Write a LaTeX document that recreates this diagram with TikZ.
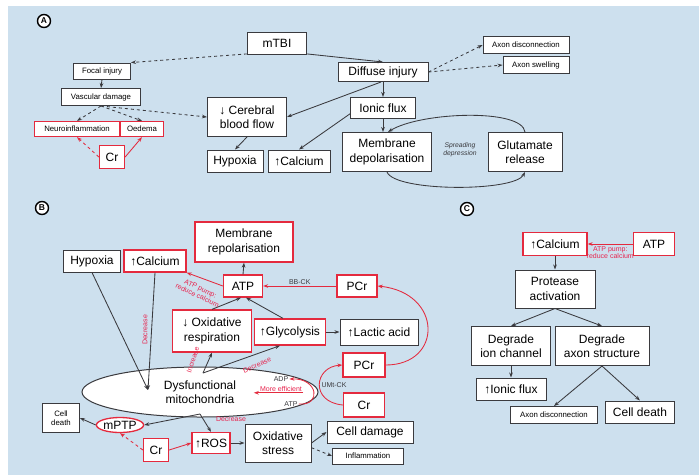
\documentclass[tikz,border=0pt]{standalone}
\usepackage{fontspec}
\setmainfont{Liberation Sans}
\usetikzlibrary{arrows.meta,shapes.geometric}

\definecolor{bgblue}{RGB}{205,224,238}
\definecolor{boxred}{RGB}{228,42,62}
\definecolor{txtred}{RGB}{232,36,78}
\definecolor{linegray}{RGB}{58,58,62}

\tikzset{
  box/.style={draw=linegray, line width=1pt, fill=white, align=center, inner sep=1pt,
    font=\fontsize{12}{14.5}\selectfont},
  redbox/.style={box, draw=boxred, line width=1.3pt},
  smallbox/.style={box, line width=0.9pt, font=\fontsize{7.8}{9}\selectfont},
  smallredbox/.style={smallbox, draw=boxred, line width=1.2pt},
  note/.style={text=txtred, inner sep=1pt, align=center, font=\fontsize{7}{7.6}\selectfont},
  tag/.style={text=linegray, inner sep=1pt, align=center, font=\fontsize{7}{8}\selectfont},
  panel/.style={circle, draw=black, line width=1.4pt, fill=white, inner sep=0.5pt,
    minimum size=13pt, font=\bfseries\fontsize{8.5}{9}\selectfont},
  conn/.style={draw=linegray, line width=0.85pt, ->},
  redconn/.style={draw=boxred, line width=0.85pt, ->}
}

\begin{document}
\begin{tikzpicture}[x=1pt, y=-1pt, >={Stealth[length=5pt,width=3.6pt]}]
        \useasboundingbox (0,0) rectangle (699,475);
        \fill[bgblue] (8,6) rectangle (699,475);

        % panel A: nodes
        \node (pa) [panel] at (44,21) {A};
        \node (mtbi) [box, minimum width=59, minimum height=22] at (277,43) {mTBI};
        \node (focal) [smallbox, minimum width=57, minimum height=16] at (102,71) {Focal injury};
        \node (vasc) [smallbox, minimum width=79, minimum height=17] at (101,97) {Vascular damage};
        \node (neuro) [smallredbox, minimum width=85, minimum height=15] at (77,129) {Neuroinflammation};
        \node (oedema) [smallredbox, minimum width=43, minimum height=15] at (142,129) {Oedema};
        \node (cra) [redbox, minimum width=25, minimum height=23] at (112,157) {Cr};
        \node (cbf) [box, minimum width=79, minimum height=39] at (247,117) {↓ Cerebral\\blood flow};
        \node (hypa) [box, minimum width=56, minimum height=22] at (235,161) {Hypoxia};
        \node (calca) [box, minimum width=62, minimum height=22] at (299,161) {↑Calcium};
        \node (diffuse) [box, minimum width=90, minimum height=19] at (383,72) {Diffuse injury};
        \node (ionic) [box, minimum width=65, minimum height=21] at (383,108) {Ionic flux};
        \node (mdep) [box, minimum width=89, minimum height=39] at (387,152) {Membrane\\depolarisation};
        \node (glu) [box, minimum width=74, minimum height=39] at (525,152) {Glutamate\\release};
        \node (axdis) [smallbox, minimum width=86, minimum height=17] at (526,45) {Axon disconnection};
        \node (axswell) [smallbox, minimum width=66, minimum height=17] at (536,65) {Axon swelling};
        \node (spread) [tag, font=\itshape\fontsize{6.8}{8}\selectfont] at (460,150) {Spreading\\depression};

        % panel A: edges
        \draw[conn, dashed] (mtbi.200) -- (focal.north east);
        \draw[conn] (mtbi.340) -- (diffuse.north);
        \draw[conn] (focal.south) -- (vasc.north);
        \draw[conn, dashed] (vasc.south) -- (neuro.north);
        \draw[conn, dashed] (vasc.south) -- (oedema.north);
        \draw[conn, dashed] (vasc.south) -- (cbf.west);
        \draw[redconn, dashed] (cra.west) -- (neuro.south);
        \draw[redconn] (cra.east) -- (oedema.south);
        \draw[conn] ([xshift=-2pt]diffuse.south) -- (cbf.east);
        \draw[conn] (diffuse.south) -- (ionic.north);
        \draw[conn] (ionic.190) -- (calca.north);
        \draw[conn] (ionic.south) -- (ionic.south |- mdep.north);
        \draw[conn] (cbf.south) -- (hypa.north);
        \draw[conn, dashed] (diffuse.east) -- (axdis.west);
        \draw[conn, dashed] (diffuse.east) -- (axswell.west);
        \draw[conn] (glu.north) .. controls (522,108) and (420,112) .. ([xshift=1pt]mdep.north);
        \draw[conn] (mdep.south) .. controls (395,192) and (515,192) .. (glu.south);

        % panel B: nodes
        \node (pb) [panel] at (42,208) {B};
        \node (hypb) [box, minimum width=57, minimum height=22] at (92,261) {Hypoxia};
        \node (calcb) [redbox, minimum width=62, minimum height=22] at (155,261) {↑Calcium};
        \node (mrep) [redbox, minimum width=98, minimum height=40] at (244,242) {Membrane\\repolarisation};
        \node (atpb) [redbox, minimum width=39, minimum height=22] at (243,286) {ATP};
        \node (pcrt) [redbox, minimum width=40, minimum height=22] at (357,286) {PCr};
        \node (oxr) [redbox, minimum width=79, minimum height=42] at (212,331) {↓ Oxidative\\respiration};
        \node (glyc) [redbox, minimum width=71, minimum height=26] at (290,332) {↑Glycolysis};
        \node (lact) [box, minimum width=78, minimum height=26] at (379,332) {↑Lactic acid};
        \node (pcrb) [redbox, minimum width=42, minimum height=24] at (364,365) {PCr};
        \node (crb) [redbox, minimum width=41, minimum height=24] at (364,405) {Cr};
        \node (mito) [box, ellipse, minimum width=236, minimum height=50] at (200,392) {Dysfunctional\\mitochondria};
        \node (mptp) [redbox, ellipse, inner sep=0pt, minimum width=45, minimum height=15] at (120,425) {mPTP};
        \node (celld) [smallbox, minimum width=37, minimum height=29] at (61,418) {Cell\\death};
        \node (crc) [redbox, minimum width=25, minimum height=23] at (156,450) {Cr};
        \node (ros) [redbox, minimum width=38, minimum height=21] at (211,443) {↑ROS};
        \node (oxs) [box, minimum width=66, minimum height=38] at (278,443) {Oxidative\\stress};
        \node (cdam) [box, minimum width=86, minimum height=22] at (370,432) {Cell damage};
        \node (infl) [smallbox, minimum width=71, minimum height=16] at (368,456) {Inflammation};
        \node (adp) [tag] at (281,379) {ADP};
        \node (atpm) [tag] at (291,404) {ATP};
        \node (eff) [note] at (281,389) {More efficient};
        \node (umt) [tag] at (334,385) {UMt-CK};
        \coordinate (mitoin) at (148,390);
        \coordinate (mitoup) at (203,373);
        \coordinate (mitodn) at (200,414);

        % panel B: edges
        \draw[conn] (hypb.south) -- (mitoin);
        \draw[conn] (calcb.south) -- (mitoin);
        \draw[conn] (atpb.north) -- (mrep.south);
        \draw[redconn] (pcrt.west) -- node[tag, above] {BB-CK} (atpb.east);
        \draw[redconn] (atpb.west) -- (calcb.south east);
        \draw[conn] (oxr.north) -- ([xshift=-2pt]atpb.south);
        \draw[conn] ([xshift=-7pt]glyc.north) -- ([xshift=3pt]atpb.south);
        \draw[conn] (glyc.east) -- (lact.west);
        \draw[redconn] (pcrb.east) .. controls (443,365) and (443,293) .. (pcrt.east);
        \draw[redconn] (crb.west) .. controls (310,402) and (314,367) .. (pcrb.west);
        \draw[conn] (mitoup) -- (oxr.south);
        \draw[conn] (mitoup) -- ([xshift=-10pt]glyc.south);
        \draw[conn] (mitodn) -- (mptp.east);
        \draw[conn] (mitodn) -- (ros.north);
        \draw[conn] (mptp.west) -- (celld.east);
        \draw[redconn, dashed] (crc.west) -- (mptp.south);
        \draw[redconn] (crc.east) -- (ros.west);
        \draw[conn] (ros.east) -- (oxs.west);
        \draw[conn] (oxs.east) -- (cdam.west);
        \draw[conn, dashed] (oxs.-8) -- (infl.west);
        \draw[redconn] (atpm.east) .. controls (322,406) and (318,378) .. (adp.east);
        \draw[redconn] (eff.south east) -- ([xshift=-5pt]eff.south west);

        % panel B: labels
        \node (pumpb) [note, rotate=-25] at (199,292) {ATP pump:\\reduce calcium};
        \node (decra) [note, rotate=90] at (145,330) {Decrease};
        \node (incr) [note, rotate=72] at (193,360) {Increase};
        \node (decrb) [note, rotate=24] at (257,365) {Decrease};
        \node (decrc) [note] at (231,419) {Decrease};

        % panel C: nodes
        \node (pc) [panel] at (467,209) {C};
        \node (calcc) [redbox, minimum width=64, minimum height=23] at (555,244) {↑Calcium};
        \node (atpc) [redbox, minimum width=41, minimum height=23] at (654,244) {ATP};
        \node (prot) [box, minimum width=80, minimum height=38] at (555,289) {Protease\\activation};
        \node (degi) [box, minimum width=79, minimum height=39] at (511,346) {Degrade\\ion channel};
        \node (dega) [box, minimum width=94, minimum height=39] at (602,346) {Degrade\\axon structure};
        \node (ionc) [box, minimum width=70, minimum height=22] at (511,389) {↑Ionic flux};
        \node (axdc) [smallbox, minimum width=87, minimum height=17] at (554,415) {Axon disconnection};
        \node (celldc) [box, minimum width=69, minimum height=22] at (640,412) {Cell death};

        % panel C: edges
        \draw[redconn] (atpc.west) -- node[note, below=1pt] {ATP pump:\\reduce calcium} (calcc.east);
        \draw[conn] (calcc.south) -- (prot.north);
        \draw[conn] (prot.south) -- (degi.north);
        \draw[conn] (prot.south) -- (dega.north);
        \draw[conn] (degi.south) -- (ionc.north);
        \draw[conn] (dega.south) -- (axdc.north);
        \draw[conn] (dega.south) -- (celldc.north);
\end{tikzpicture}
\end{document}
